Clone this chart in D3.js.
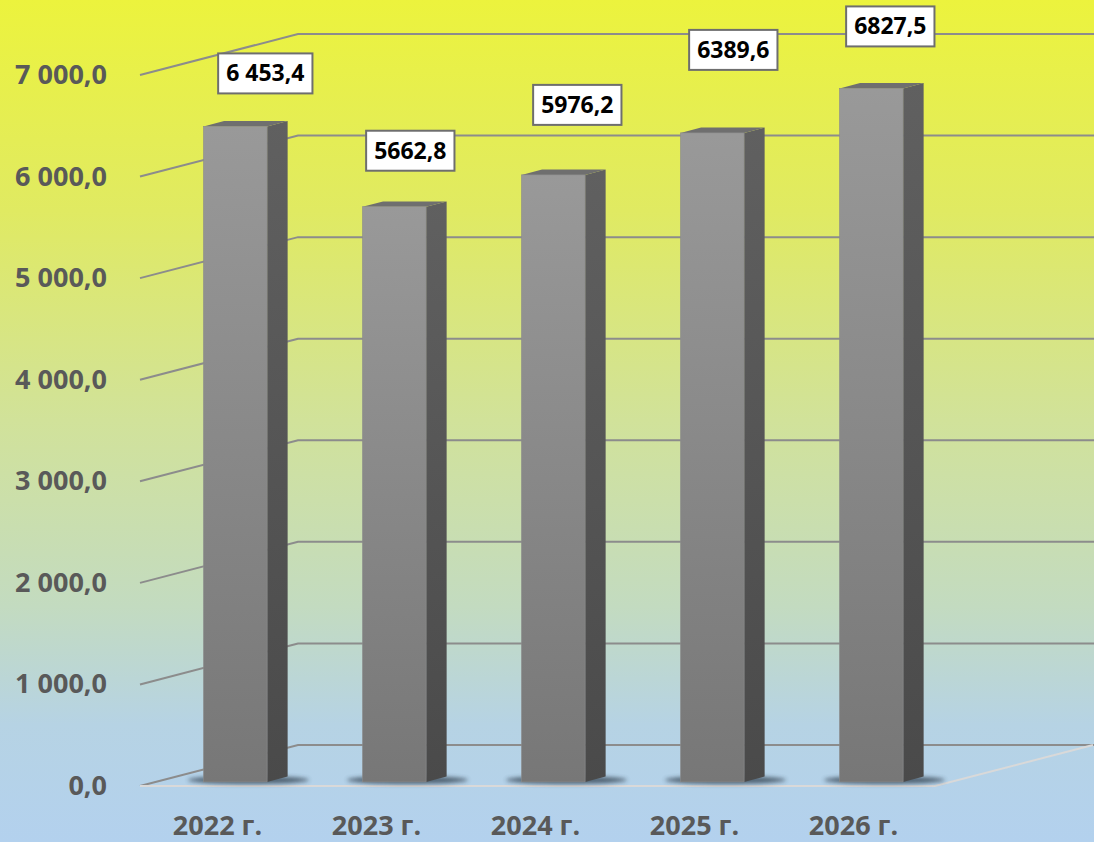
<!DOCTYPE html>
<html>
<head>
<meta charset="utf-8">
<script src="https://cdn.jsdelivr.net/npm/d3@7"></script>
<style>
  html, body { margin: 0; padding: 0; background: #fff; }
  svg { display: block; }
</style>
</head>
<body>
<div id="chart"></div>
<script>
// ---- data ----
const categories = ["2022 г.", "2023 г.", "2024 г.", "2025 г.", "2026 г."];
const values = [6453.4, 5662.8, 5976.2, 6389.6, 6827.5];
const valueLabels = ["6 453,4", "5662,8", "5976,2", "6389,6", "6827,5"];
const yTicks = [0, 1000, 2000, 3000, 4000, 5000, 6000, 7000];

// ---- layout (not data) ----
const W = 1094, H = 842;
const floorLeft = 140, floorRight = 935;
const DX = 158, DY = -41;          // projection of full depth
const d0 = 0.10, d1 = 0.23;        // bar depth span (fraction)
const labelOffsets = [[30, -53], [16, -56], [24, -70], [21, -83], [19, -62]];

const fmt = d3.formatLocale({decimal: ",", thousands: " ", grouping: [3]}).format(",.1f");

const svg = d3.select("#chart").append("svg").attr("width", W).attr("height", H);
const defs = svg.append("defs");

const bg = defs.append("linearGradient").attr("id", "bg").attr("x1", 0).attr("y1", 0).attr("x2", 0).attr("y2", 1);
[[0, "#ecf33d"], [0.25, "#e0ea62"], [0.5, "#d1e29a"], [0.72, "#c3dbc0"], [0.86, "#b6d3e4"], [1, "#b3d1ee"]]
  .forEach(([o, c]) => bg.append("stop").attr("offset", o).attr("stop-color", c));

const front = defs.append("linearGradient").attr("id", "front").attr("x1", 0).attr("y1", 0).attr("x2", 0).attr("y2", 1);
front.append("stop").attr("offset", 0).attr("stop-color", "#999999");
front.append("stop").attr("offset", 1).attr("stop-color", "#777777");
const side = defs.append("linearGradient").attr("id", "side").attr("x1", 0).attr("y1", 0).attr("x2", 0).attr("y2", 1);
side.append("stop").attr("offset", 0).attr("stop-color", "#606060");
side.append("stop").attr("offset", 1).attr("stop-color", "#4a4a4a");

const blur = defs.append("filter").attr("id", "blur").attr("x", "-50%").attr("y", "-200%").attr("width", "200%").attr("height", "500%");
blur.append("feGaussianBlur").attr("stdDeviation", 2.2);

svg.append("rect").attr("width", W).attr("height", H).attr("fill", "url(#bg)");

const x = d3.scaleBand().domain(categories).range([floorLeft, floorRight]);
const y = d3.scaleLinear().domain([0, 7000]).range([786, 75]);

const P = (xf, v, d) => [xf + d * DX, y(v) + d * DY];
const poly = pts => pts.map(p => p.join(",")).join(" ");

// gridlines (side wall slant + back wall)
const grid = svg.append("g");
yTicks.forEach(t => {
  const a = P(floorLeft, t, 0), b = P(floorLeft, t, 1), c = P(floorRight, t, 1);
  grid.append("polyline")
    .attr("points", poly([a, b, [W + 2, c[1]]]))
    .attr("fill", "none").attr("stroke", "#8c8c8c").attr("stroke-width", 2);
});

// floor front edge + right edge
{
  const a = P(floorLeft, 0, 0), b = P(floorRight, 0, 0), c = P(floorRight, 0, 1);
  svg.append("polyline").attr("points", poly([a, b, c]))
    .attr("fill", "none").attr("stroke", "#d9d9d9").attr("stroke-width", 2);
}

// tick labels
svg.append("g").selectAll("text").data(yTicks).join("text")
  .attr("x", 107).attr("y", d => y(d) + 9)
  .attr("text-anchor", "end")
  .attr("font-family", "'Open Sans', sans-serif").attr("font-weight", 700)
  .attr("font-size", 27).attr("fill", "#595959")
  .text(d => fmt(d));

// category labels
svg.append("g").selectAll("text").data(categories).join("text")
  .attr("x", d => x(d) + x.bandwidth() / 2 - 2).attr("y", 835)
  .attr("text-anchor", "middle")
  .attr("font-family", "'Open Sans', sans-serif").attr("font-weight", 700)
  .attr("font-size", 27).attr("fill", "#595959")
  .text(d => d);

// bars
const bw = x.bandwidth() * 0.4;
const bars = svg.append("g");
categories.forEach((cat, i) => {
  const v = values[i];
  const cx = x(cat) + x.bandwidth() / 2;
  const xl = cx - bw / 2, xr = cx + bw / 2;
  const g = bars.append("g");
  // shadow
  const sb = P(cx, 0, d0 + 0.02);
  g.append("ellipse").attr("cx", sb[0] + 10).attr("cy", sb[1] - 1)
    .attr("rx", bw * 0.95).attr("ry", 4)
    .attr("fill", "#2f3e4c").attr("opacity", 0.75).attr("filter", "url(#blur)");
  // side
  g.append("polygon").attr("points", poly([P(xr, 0, d0), P(xr, v, d0), P(xr, v, d1), P(xr, 0, d1)]))
    .attr("fill", "url(#side)");
  // top
  g.append("polygon").attr("points", poly([P(xl, v, d0), P(xr, v, d0), P(xr, v, d1), P(xl, v, d1)]))
    .attr("fill", "#6f6f6f");
  // front
  const ft = P(xl, v, d0), fb = P(xr, 0, d0);
  g.append("rect").attr("x", ft[0]).attr("y", ft[1]).attr("width", fb[0] - ft[0]).attr("height", fb[1] - ft[1])
    .attr("fill", "url(#front)").attr("stroke", "#8a8a8a").attr("stroke-width", 0.6);
});

// value labels
const labels = svg.append("g");
categories.forEach((cat, i) => {
  const cx = x(cat) + x.bandwidth() / 2;
  const top = P(cx, values[i], d0);
  const lx = top[0] + labelOffsets[i][0], ly = top[1] + labelOffsets[i][1];
  const g = labels.append("g");
  const rect = g.append("rect");
  const t = g.append("text").attr("x", lx).attr("y", ly + 8)
    .attr("text-anchor", "middle")
    .attr("font-family", "'Open Sans', sans-serif").attr("font-weight", 700)
    .attr("font-size", 23).attr("fill", "#000")
    .text(valueLabels[i]);
  const tw = t.node().getComputedTextLength();
  const bwid = tw + 16, bh = 40;
  rect.attr("x", lx - bwid / 2).attr("y", ly - bh / 2).attr("width", bwid).attr("height", bh)
    .attr("fill", "#fff").attr("stroke", "#6e6e6e").attr("stroke-width", 2);
});
</script>
</body>
</html>
